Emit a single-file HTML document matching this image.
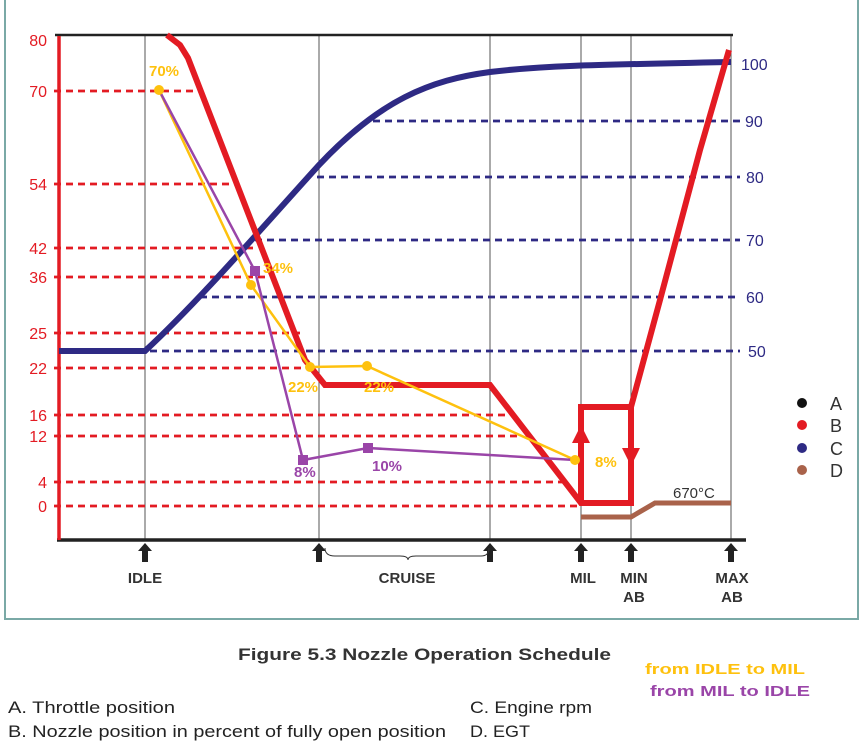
<!DOCTYPE html>
<html><head><style>body{margin:0;background:#fff}svg{display:block}</style></head><body>
<svg width="864" height="750" viewBox="0 0 864 750" xmlns="http://www.w3.org/2000/svg" font-family="Liberation Sans, sans-serif">
<rect x="5" y="-5" width="853" height="624" fill="#fff" stroke="#7aa9a6" stroke-width="2"/>
<g stroke="#555" stroke-width="1">
<line x1="145" y1="36" x2="145" y2="540"/><line x1="319" y1="36" x2="319" y2="540"/><line x1="490" y1="36" x2="490" y2="540"/><line x1="581" y1="36" x2="581" y2="540"/><line x1="631" y1="36" x2="631" y2="540"/><line x1="731" y1="36" x2="731" y2="540"/>
</g>
<line x1="55" y1="35" x2="733" y2="35" stroke="#222" stroke-width="2.5"/>
<line x1="57" y1="540" x2="746" y2="540" stroke="#222" stroke-width="3.5"/>
<line x1="59" y1="36" x2="59" y2="540" stroke="#e31b23" stroke-width="3.5"/>
<g stroke="#e31b23" stroke-width="2.8" stroke-dasharray="7,5">
<line x1="54" y1="91" x2="200" y2="91"/><line x1="54" y1="184" x2="235" y2="184"/><line x1="54" y1="248" x2="258" y2="248"/><line x1="54" y1="277" x2="270" y2="277"/><line x1="54" y1="333" x2="300" y2="333"/><line x1="54" y1="368" x2="305" y2="368"/><line x1="54" y1="415" x2="507" y2="415"/><line x1="54" y1="436" x2="522" y2="436"/><line x1="54" y1="482" x2="565" y2="482"/><line x1="54" y1="506" x2="580" y2="506"/>
</g>
<g fill="#e31b23" font-size="16" text-anchor="end">
<text x="47" y="46">80</text><text x="47" y="97">70</text><text x="47" y="190">54</text><text x="47" y="254">42</text><text x="47" y="283">36</text><text x="47" y="339">25</text><text x="47" y="374">22</text><text x="47" y="421">16</text><text x="47" y="442">12</text><text x="47" y="488">4</text><text x="47" y="512">0</text>
</g>
<g stroke="#2e2a84" stroke-width="2.8" stroke-dasharray="7,5">
<line x1="373" y1="121" x2="740" y2="121"/><line x1="317" y1="177" x2="740" y2="177"/><line x1="255" y1="240" x2="740" y2="240"/><line x1="200" y1="297" x2="740" y2="297"/><line x1="150" y1="351" x2="740" y2="351"/>
</g>
<g fill="#2e2a84" font-size="16">
<text x="741" y="70">100</text><text x="745" y="127">90</text><text x="746" y="183">80</text><text x="746" y="246">70</text><text x="746" y="303">60</text><text x="748" y="357">50</text>
</g>
<path d="M59,351 L145,351 C200,300 260,230 319,165 C380,100 430,80 490,72 C540,66 581,65 731,62" fill="none" stroke="#2e2a84" stroke-width="6"/>
<path d="M581,517 L631,517 L655,503 L731,503" fill="none" stroke="#a9624a" stroke-width="5"/>
<text x="673" y="498" font-size="15" fill="#333">670°C</text>
<path d="M167,35 L180,45 L188,58 L305,360 L325,385 L490,385 L581,503 L631,503 L631,407 L581,407 L581,503 M631,407 L660,300 L700,150 L729,50" fill="none" stroke="#e31b23" stroke-width="6" stroke-linejoin="miter"/>
<path d="M572,443 L581,425 L590,443 Z M622,448 L631,466 L640,448 Z" fill="#e31b23"/>
<polyline points="159,90 251,285 310,367 367,366 575,460" fill="none" stroke="#fec10e" stroke-width="2.5"/>
<polyline points="159,90 255,271 303,460 368,448 575,460" fill="none" stroke="#9a45a8" stroke-width="2.5"/>
<g fill="#fec10e"><circle cx="159" cy="90" r="5"/><circle cx="251" cy="285" r="5"/><circle cx="310" cy="367" r="5"/><circle cx="367" cy="366" r="5"/><circle cx="575" cy="460" r="5"/></g>
<g fill="#9a45a8"><rect x="250" y="266" width="10" height="10"/><rect x="298" y="455" width="10" height="10"/><rect x="363" y="443" width="10" height="10"/></g>
<g fill="#fec10e" font-size="15" font-weight="bold">
<text x="149" y="76">70%</text><text x="263" y="273">34%</text><text x="288" y="392">22%</text><text x="364" y="392">22%</text><text x="595" y="467">8%</text>
</g>
<g fill="#9a45a8" font-size="15" font-weight="bold"><text x="294" y="477">8%</text><text x="372" y="471">10%</text></g>
<g fill="#222">
<path d="M145,543 l-7,8 h4 v11 h6 v-11 h4 z"/><path d="M319,543 l-7,8 h4 v11 h6 v-11 h4 z"/><path d="M490,543 l-7,8 h4 v11 h6 v-11 h4 z"/><path d="M581,543 l-7,8 h4 v11 h6 v-11 h4 z"/><path d="M631,543 l-7,8 h4 v11 h6 v-11 h4 z"/><path d="M731,543 l-7,8 h4 v11 h6 v-11 h4 z"/>
</g>
<path d="M325,548 q0,8 10,8 h65 q8,0 8,4 q0,-4 8,-4 h65 q8,0 8,-8" fill="none" stroke="#333" stroke-width="1"/>
<g fill="#333" font-size="15" font-weight="bold" text-anchor="middle">
<text x="145" y="583">IDLE</text><text x="407" y="583">CRUISE</text><text x="583" y="583">MIL</text><text x="634" y="583">MIN</text><text x="634" y="602">AB</text><text x="732" y="583">MAX</text><text x="732" y="602">AB</text>
</g>
<circle cx="802" cy="403" r="5" fill="#111"/><circle cx="802" cy="425" r="5" fill="#e31b23"/><circle cx="802" cy="448" r="5" fill="#2e2a84"/><circle cx="802" cy="470" r="5" fill="#a9624a"/>
<g font-size="18" fill="#333"><text x="830" y="410">A</text><text x="830" y="432">B</text><text x="830" y="455">C</text><text x="830" y="477">D</text></g>
<text x="238" y="660" font-size="17" font-weight="bold" fill="#333" textLength="373" lengthAdjust="spacingAndGlyphs">Figure 5.3 Nozzle Operation Schedule</text>
<text x="645" y="674" font-size="15" font-weight="bold" fill="#fec10e" textLength="160" lengthAdjust="spacingAndGlyphs">from IDLE to MIL</text>
<text x="650" y="696" font-size="15" font-weight="bold" fill="#9a45a8" textLength="160" lengthAdjust="spacingAndGlyphs">from MIL to IDLE</text>
<g font-size="17" fill="#222">
<text x="8" y="713" textLength="167" lengthAdjust="spacingAndGlyphs">A. Throttle position</text>
<text x="8" y="737" textLength="438" lengthAdjust="spacingAndGlyphs">B. Nozzle position in percent of fully open position</text>
<text x="470" y="713" textLength="122" lengthAdjust="spacingAndGlyphs">C. Engine rpm</text>
<text x="470" y="737" textLength="60" lengthAdjust="spacingAndGlyphs">D. EGT</text>
</g>
</svg>
</body></html>
